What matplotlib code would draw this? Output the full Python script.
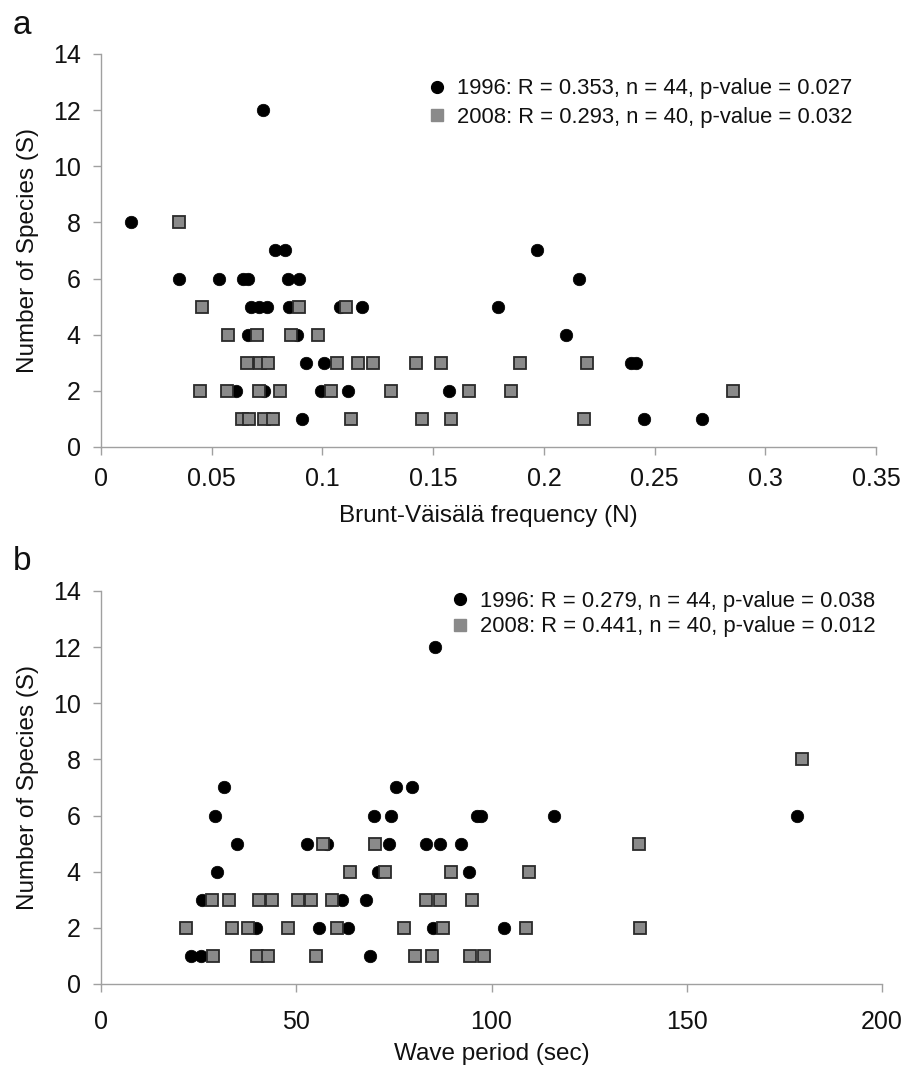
import matplotlib
matplotlib.use("Agg")
import matplotlib.pyplot as plt
from matplotlib.lines import Line2D

plt.rcParams['font.family'] = ['Liberation Sans', 'DejaVu Sans']

# species counts vs Brunt-Vaisala frequency
bv_1996 = [0.073, 0.0135,
           0.0786, 0.083, 0.1967,
           0.035, 0.0532, 0.0642, 0.0662, 0.0845, 0.0894, 0.2157,
           0.0677, 0.0713, 0.0749, 0.0848, 0.108, 0.1178, 0.1795,
           0.0663, 0.0884, 0.210,
           0.0925, 0.1006, 0.2395, 0.2417,
           0.0608, 0.0735, 0.0992, 0.1114, 0.157,
           0.0907, 0.2453, 0.2716]
bv_s_1996 = [12, 8,
             7, 7, 7,
             6, 6, 6, 6, 6, 6, 6,
             5, 5, 5, 5, 5, 5, 5,
             4, 4, 4,
             3, 3, 3, 3,
             2, 2, 2, 2, 2,
             1, 1, 1]

bv_2008 = [0.0351,
           0.0455, 0.0894, 0.1105,
           0.0573, 0.0703, 0.0857, 0.098,
           0.0658, 0.0716, 0.0753, 0.1064, 0.1159, 0.1227, 0.1424, 0.1536,
           0.1894, 0.2196,
           0.0448, 0.0568, 0.0713, 0.0807, 0.1037, 0.1308, 0.1664, 0.1853,
           0.2855,
           0.0636, 0.0668, 0.0735, 0.0776, 0.1128, 0.145, 0.158, 0.2183]
bv_s_2008 = [8,
             5, 5, 5,
             4, 4, 4, 4,
             3, 3, 3, 3, 3, 3, 3, 3, 3, 3,
             2, 2, 2, 2, 2, 2, 2, 2, 2,
             1, 1, 1, 1, 1, 1, 1, 1]

# species counts vs wave period
wp_1996 = [85.5,
           31.6, 75.5, 79.6,
           29.2, 69.8, 74.2, 96.3, 97.4, 116.0, 178.2,
           34.8, 52.7, 57.8, 73.8, 83.2, 86.8, 92.1,
           29.6, 70.9, 94.2,
           25.8, 61.7, 67.8,
           39.7, 55.8, 63.3, 85.1, 103.1,
           23.0, 25.6, 68.9]
wp_s_1996 = [12,
             7, 7, 7,
             6, 6, 6, 6, 6, 6, 6,
             5, 5, 5, 5, 5, 5, 5,
             4, 4, 4,
             3, 3, 3,
             2, 2, 2, 2, 2,
             1, 1, 1]

wp_2008 = [179.5,
           56.8, 70.1, 137.7,
           63.7, 72.7, 89.6, 109.6,
           28.4, 32.8, 40.5, 43.8, 50.5, 53.9, 59.1, 83.2, 86.8, 95.0,
           21.8, 33.5, 37.6, 47.8, 60.4, 77.6, 87.6, 108.8, 138.0,
           28.7, 39.9, 42.8, 55.0, 80.4, 84.7, 94.5, 98.0]
wp_s_2008 = [8,
             5, 5, 5,
             4, 4, 4, 4,
             3, 3, 3, 3, 3, 3, 3, 3, 3, 3,
             2, 2, 2, 2, 2, 2, 2, 2, 2,
             1, 1, 1, 1, 1, 1, 1, 1]

legend_a = ['1996: R = 0.353, n = 44, p-value = 0.027',
            '2008: R = 0.293, n = 40, p-value = 0.032']
legend_b = ['1996: R = 0.279, n = 44, p-value = 0.038',
            '2008: R = 0.441, n = 40, p-value = 0.012']

SQ_FACE = '#8a8a8a'
SQ_EDGE = '#2a2a2a'
AX_COL = '#a0a0a0'
TICK_FS = 18
LABEL_FS = 17.5


def style_axes(ax, xlim, xticks, xticklabels, xlabel, xpad, xlabpad):
    ax.set_ylim(0, 14)
    ax.set_yticks(range(0, 15, 2))
    ax.set_xlim(*xlim)
    ax.set_xticks(xticks)
    ax.set_xticklabels(xticklabels)
    for side in ('top', 'right'):
        ax.spines[side].set_visible(False)
    for side in ('left', 'bottom'):
        ax.spines[side].set_color(AX_COL)
        ax.spines[side].set_linewidth(1.0)
    ax.tick_params(axis='both', direction='out', length=5.5, width=1.0,
                   color=AX_COL, labelsize=TICK_FS, labelcolor='#111111')
    ax.tick_params(axis='y', pad=9)
    ax.tick_params(axis='x', pad=xpad)
    ax.set_ylabel('Number of Species (S)', fontsize=LABEL_FS,
                  color='#111111', labelpad=10)
    ax.set_xlabel(xlabel, fontsize=LABEL_FS, color='#111111',
                  labelpad=xlabpad)


def draw_points(ax, x96, y96, x08, y08):
    ax.plot(x96, y96, 'o', ms=9, mfc='black', mec='black', mew=0.5,
            clip_on=False, zorder=3)
    ax.plot(x08, y08, 's', ms=8.3, mfc=SQ_FACE, mec=SQ_EDGE, mew=1.3,
            clip_on=False, zorder=4)


def add_legend(ax, labels, anchor, spacing):
    handles = [Line2D([], [], ls='none', marker='o', ms=8.5, mfc='black',
                      mec='black'),
               Line2D([], [], ls='none', marker='s', ms=8.5, mfc=SQ_FACE,
                      mec=SQ_FACE)]
    leg = ax.legend(handles, labels, loc='upper left', bbox_to_anchor=anchor,
                    frameon=False, fontsize=15.8, handlelength=1.0,
                    handletextpad=0.4, borderpad=0, borderaxespad=0,
                    labelspacing=spacing)
    for t in leg.get_texts():
        t.set_color('#111111')


fig = plt.figure(figsize=(9.05, 10.68), dpi=100)

ax1 = fig.add_axes([0.1116, 0.5815, 0.8564, 0.368])
draw_points(ax1, bv_1996, bv_s_1996, bv_2008, bv_s_2008)
style_axes(ax1, (0, 0.35), [0, 0.05, 0.1, 0.15, 0.2, 0.25, 0.3, 0.35],
           ['0', '0.05', '0.1', '0.15', '0.2', '0.25', '0.3', '0.35'],
           'Brunt-Väisälä frequency (N)', 9, 10)
add_legend(ax1, legend_a, (0.420, 0.938), 0.35)
fig.text(0.014, 0.991, 'a', fontsize=24, color='#111111', va='top')

ax2 = fig.add_axes([0.1116, 0.0787, 0.863, 0.368])
draw_points(ax2, wp_1996, wp_s_1996, wp_2008, wp_s_2008)
style_axes(ax2, (0, 200), [0, 50, 100, 150, 200],
           ['0', '50', '100', '150', '200'],
           'Wave period (sec)', 13, 7)
add_legend(ax2, legend_b, (0.446, 1.0), 0.2)
fig.text(0.014, 0.489, 'b', fontsize=24, color='#111111', va='top')

fig.savefig('out.png', dpi=100, facecolor='white')
